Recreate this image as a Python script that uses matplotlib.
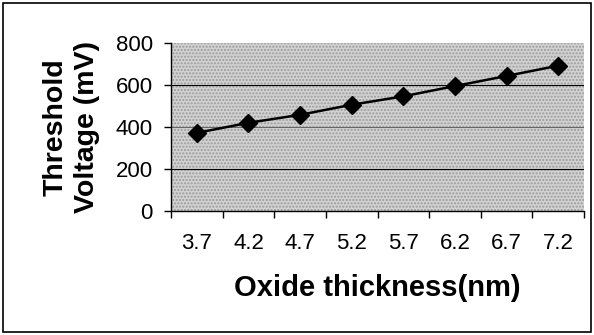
import numpy as np
import matplotlib.pyplot as plt
from matplotlib.patches import Rectangle

plt.rcParams['font.family'] = ['Liberation Sans', 'DejaVu Sans']

# 数据：氧化层厚度 与 阈值电压
thickness = ["3.7", "4.2", "4.7", "5.2", "5.7", "6.2", "6.7", "7.2"]
vth = [372, 420, 458, 506, 546, 595, 643, 692]

fig = plt.figure(figsize=(5.94, 3.35), dpi=100)
ax = fig.add_axes([171 / 594, 1 - 211 / 335, 413 / 594, 168 / 335])

# 类别轴：点位于每个格子的中间
x = np.arange(len(thickness))
ax.set_xlim(-0.5, len(thickness) - 0.5)
ax.set_ylim(0, 800)

ax.set_facecolor('#d2d2d2')
ax.add_patch(Rectangle((-0.5, 0), len(thickness), 800, facecolor='none',
                       edgecolor='#9a9a9a', hatch='.....', linewidth=0, zorder=0.5))

for yv, c in [(200, 'black'), (400, '#666666'), (600, 'black')]:
    ax.axhline(yv, color=c, linewidth=0.8, zorder=1)

ax.plot(x, vth, color='black', linewidth=1.8, marker='D', markersize=9,
        markerfacecolor='black', zorder=3)

ax.set_yticks([0, 200, 400, 600, 800])
ax.set_xticks(np.arange(-0.5, len(thickness) + 0.5, 1.0))
ax.set_xticklabels([])
ax.set_xticks(x, minor=True)
ax.set_xticklabels(thickness, minor=True)
ax.tick_params(axis='x', which='major', direction='out', length=5, width=1)
ax.tick_params(axis='x', which='minor', length=0, pad=16, labelsize=16)
ax.tick_params(axis='y', direction='out', length=5, width=1, labelsize=16, pad=8)

for s in ['top', 'right']:
    ax.spines[s].set_visible(False)
ax.spines['left'].set_linewidth(1)
ax.spines['bottom'].set_linewidth(1)

ax.set_xlabel("Oxide thickness(nm)", fontsize=21, fontweight='bold', labelpad=14)
fig.text(71 / 594, 1 - 127 / 335, "Threshold\nVoltage (mV)", fontsize=20.5,
         fontweight='bold', rotation=90, ha='center', va='center', linespacing=1.25)

# 图外边框
fig.add_artist(Rectangle((3 / 594, 3 / 335), 588 / 594, 329 / 335,
                         transform=fig.transFigure, fill=False,
                         edgecolor='black', linewidth=1.2))

fig.savefig("out.png", dpi=100)
